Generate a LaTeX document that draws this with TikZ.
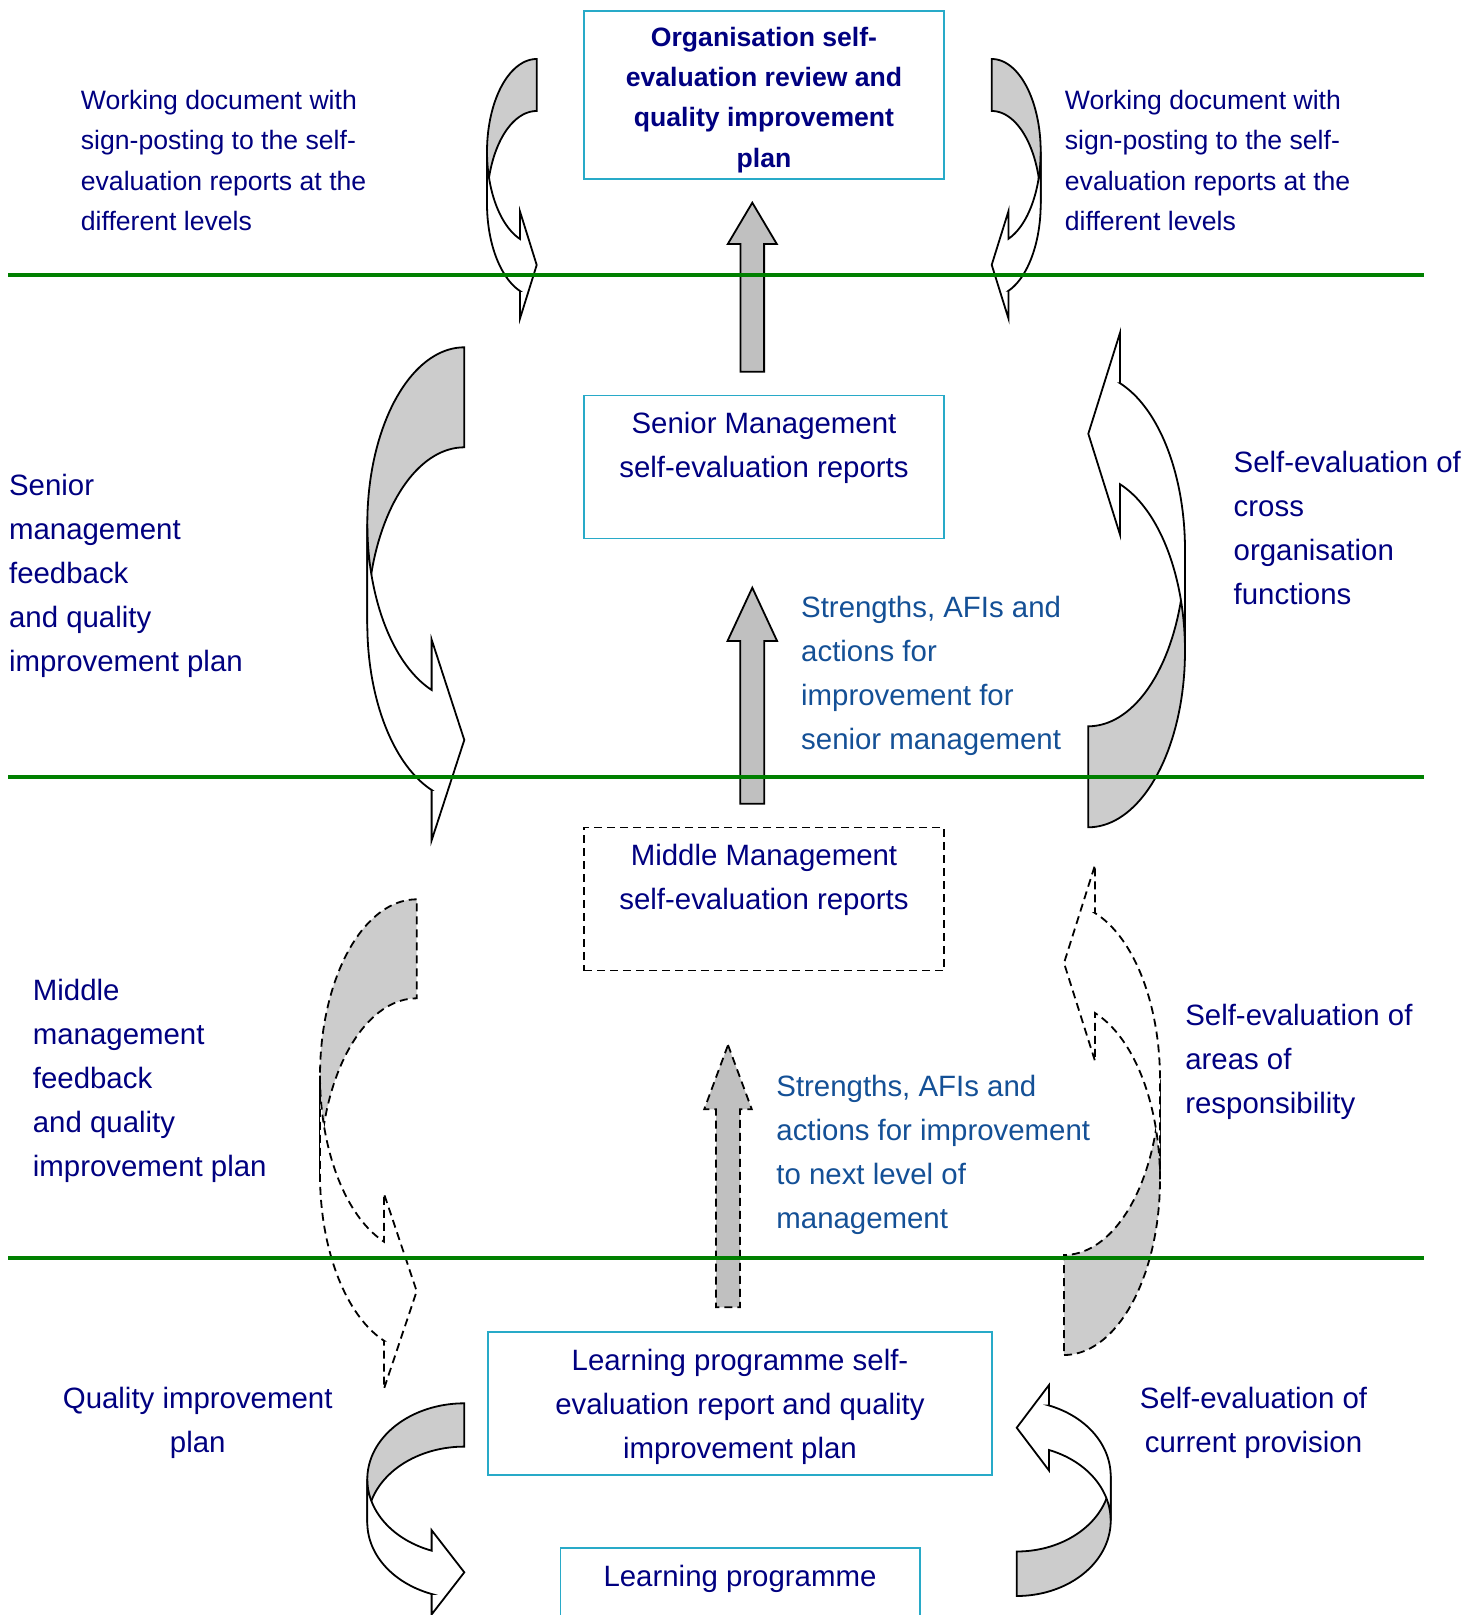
\documentclass[tikz,border=0pt]{standalone}
\usepackage{fontspec}
\setmainfont{Liberation Sans}
\usepackage{tikz}
\usetikzlibrary{positioning}

\definecolor{navytext}{RGB}{0,0,128}
\definecolor{bluetext}{RGB}{20,80,150}
\definecolor{boxline}{RGB}{40,170,200}
\definecolor{levelline}{RGB}{0,128,0}
\definecolor{backgray}{RGB}{204,204,204}
\definecolor{arrowgray}{RGB}{192,192,192}

% curved ribbon arrow: #1 placement, #2 width, #3 vertical radius, #4 band, #5 barb, #6 head length
\newcommand{\ribbonarrow}[6]{%
  \begin{scope}[#1]
    \pgfmathsetmacro{\ra}{180-acos(#6/#2)}
    \pgfmathsetmacro{\ya}{#3+#3*sin(\ra)}
    \pgfmathsetmacro{\yb}{\ya+#4}
    \filldraw[fill=backgray] (#2,0)
      -- plot[domain=270:180,samples=40,variable=\t] ({#2+#2*cos(\t)},{#3+#3*sin(\t)})
      -- plot[domain=180:270,samples=40,variable=\t] ({#2+#2*cos(\t)},{#3+#4+#3*sin(\t)})
      -- cycle;
    \filldraw[fill=white] (0,#3)
      -- plot[domain=180:\ra,samples=40,variable=\t] ({#2+#2*cos(\t)},{#3+#3*sin(\t)})
      -- (#2-#6,\ya-#5) -- (#2,\ya+#4/2) -- (#2-#6,\yb+#5) -- (#2-#6,\yb)
      -- plot[domain=\ra:180,samples=40,variable=\t] ({#2+#2*cos(\t)},{#3+#4+#3*sin(\t)})
      -- cycle;
  \end{scope}}

% block arrow pointing up: #1 style, #2 centre x, #3 tip, #4 head base, #5 foot, #6 half head, #7 half shaft
\newcommand{\uparrowblock}[7]{%
  \filldraw[#1] (#2,#3) -- (#2+#6,#4) -- (#2+#7,#4) -- (#2+#7,#5)
    -- (#2-#7,#5) -- (#2-#7,#4) -- (#2-#6,#4) -- cycle;}

\begin{document}
\begin{tikzpicture}[x=0.5pt,y=-0.5pt,line width=0.9pt,
    dashline/.style={dash pattern=on 4pt off 2.5pt},
    level/.style={draw=levelline,line width=2.2pt}]
    \useasboundingbox (0,0) rectangle (1480,1615);

    % curved arrows, left and right of the boxes
    \ribbonarrow{shift={(487,59)}}{49.7}{92.7}{52}{27.5}{16.7}
    \ribbonarrow{shift={(1040.7,59)},xscale=-1}{49}{92.7}{52}{27.5}{16.7}
    \ribbonarrow{shift={(367.3,347.3)}}{97}{176.5}{100}{50.5}{32.7}
    \ribbonarrow{shift={(1185,827.3)},xscale=-1,yscale=-1}{96.7}{176.4}{101}{50.4}{31.7}
    \ribbonarrow{shift={(320,899.3)},dashline}{96.7}{176.4}{99}{48}{32.7}
    \ribbonarrow{shift={(1160,1355)},xscale=-1,yscale=-1,dashline}{96}{175.7}{100}{48}{31}
    \ribbonarrow{shift={(367.3,1403.3)}}{97}{75.9}{43.3}{20.5}{32.7}
    \ribbonarrow{shift={(1110.7,1596)},xscale=-1,yscale=-1}{94}{75.3}{44.5}{20.5}{32.3}

    % straight arrows up the middle
    \uparrowblock{fill=arrowgray}{752.3}{202.7}{244}{371.7}{24.5}{11.8}
    \uparrowblock{fill=arrowgray}{752.3}{587.7}{641}{803.7}{24.8}{12}
    \uparrowblock{fill=arrowgray,dashline}{728}{1045}{1109.3}{1307.3}{23.8}{12}

    % the boxes, one for each level
    \begin{scope}[every node/.style={draw=boxline,line width=0.8pt,text=navytext,align=center,
        font=\fontsize{14.7}{22}\selectfont,minimum width=180pt,minimum height=71.6pt,inner sep=0pt}]
    \node[minimum height=84pt] (org) at (764,95) {};
    \node[draw=none,font=\bfseries\fontsize{13.3}{20.1}\selectfont,minimum height=0pt] (orgtext)
        at ([yshift=-2.5pt]org.center) {Organisation self-\\evaluation review and\\quality improvement\\plan};
    \node (senior) at (764,467) {Senior Management\\self-evaluation reports\\\mbox{}};
    \node[draw=black,dashline] (middle) at (764,899) {Middle Management\\self-evaluation reports\\\mbox{}};
    \node[minimum width=251.8pt] (lpreport) at (740,1403.3) {};
    \node[draw=none,minimum width=0pt,minimum height=0pt] (lptext) at ([yshift=-2pt]lpreport.center)
        {Learning programme self-\\evaluation report and quality\\improvement plan};
    \node[minimum width=179.7pt,anchor=north] (lp) at (740,1547) {Learning programme\\\mbox{}\\\mbox{}};
    \end{scope}

    % labels beside the arrows
    \begin{scope}[every node/.style={anchor=north west,align=left,inner sep=0pt,text=navytext,
        font=\fontsize{14.7}{22}\selectfont}]
    \node[font=\fontsize{13.3}{20.1}\selectfont] (docleft) at (80,89.5)
        {Working document with\\sign-posting to the self-\\evaluation reports at the\\different levels};
    \node[font=\fontsize{13.3}{20.1}\selectfont] (docright) at (1064,89.5)
        {Working document with\\sign-posting to the self-\\evaluation reports at the\\different levels};
    \node (seniorfb) at (8.2,473.7) {Senior\\management\\feedback\\and quality\\improvement plan};
    \node (crossorg) at (1232.8,450) {Self-evaluation of\\cross\\organisation\\functions};
    \node[text=bluetext] (strengthsup) at (800.3,595.3)
        {Strengths, AFIs and\\actions for\\improvement for\\senior management};
    \node (middlefb) at (32,978.4) {Middle\\management\\feedback\\and quality\\improvement plan};
    \node (areas) at (1184.4,1003) {Self-evaluation of\\areas of\\responsibility};
    \node[text=bluetext] (strengthsnext) at (775.5,1074.2)
        {Strengths, AFIs and\\actions for improvement\\to next level of\\management};
    \node[anchor=north,align=center] (qip) at (197.7,1386.3) {Quality improvement\\plan};
    \node[anchor=north,align=center] (current) at (1253.5,1386.3) {Self-evaluation of\\current provision};
    \end{scope}

    % the level lines
    \draw[level] (8.2,275) -- (1424.4,275);
    \draw[level] (8.2,777) -- (1424.4,777);
    \draw[level] (8.2,1258) -- (1424.4,1258);

\end{tikzpicture}
\end{document}
